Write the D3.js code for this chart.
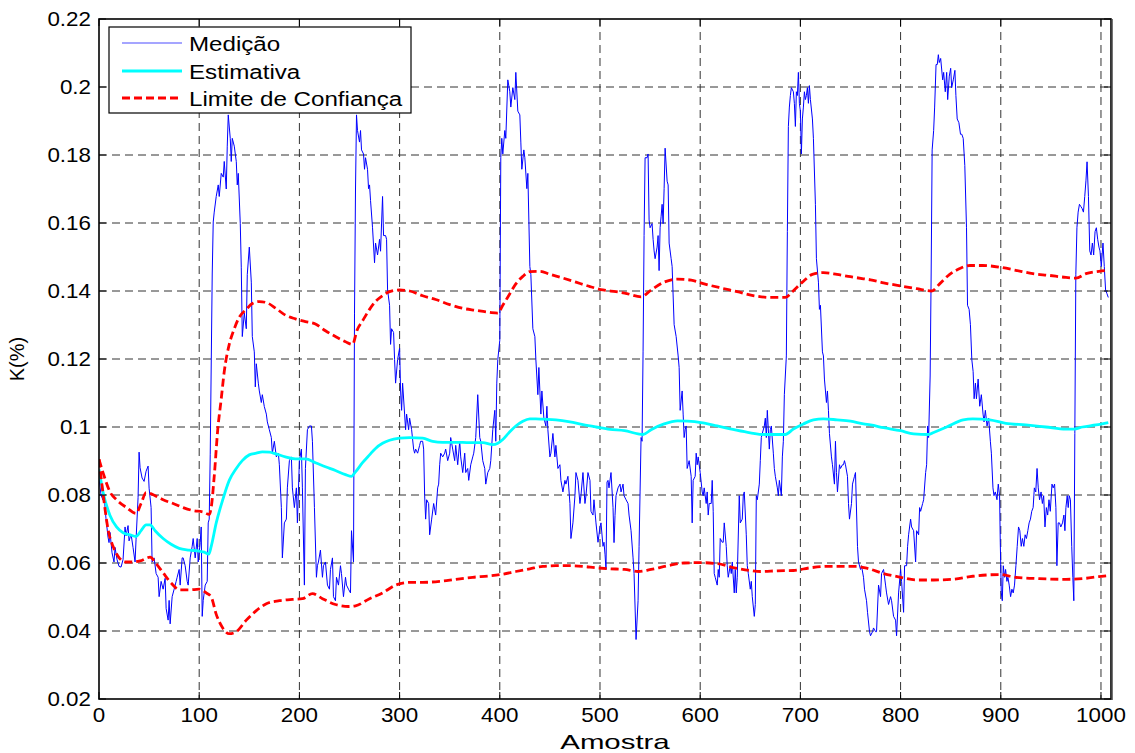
<!DOCTYPE html>
<html>
<head>
<meta charset="utf-8">
<script src="https://cdn.jsdelivr.net/npm/d3@7"></script>
<style>
  html, body { margin: 0; padding: 0; background: #fff; }
  svg { display: block; }
  text { font-family: "Liberation Sans", Arial, Helvetica, sans-serif; fill: #000; }
</style>
</head>
<body>
<svg id="chart" width="1135" height="753"></svg>
<script>
// ---------------- DATA ----------------
const xTicks = [0, 100, 200, 300, 400, 500, 600, 700, 800, 900, 1000];
const yTicks = [0.02, 0.04, 0.06, 0.08, 0.10, 0.12, 0.14, 0.16, 0.18, 0.20, 0.22];
const yTickLabels = ["0.02", "0.04", "0.06", "0.08", "0.1", "0.12", "0.14", "0.16", "0.18", "0.2", "0.22"];
const seriesNames = ["Medição", "Estimativa", "Limite de Confiança"];
const xLabel = "Amostra";
const yLabel = "K(%)";

// Medição (sample, value)
const medicao = [
[0,0.085],[2,0.080],[4,0.0785],[5,0.080],[7,0.073],[9,0.0676],[10,0.066],[11,0.069],[13,0.063],[15,0.0603],[16,0.0646],[18,0.061],[20,0.059],[22,0.0588],[24,0.061],[26,0.0706],[27,0.068],[29,0.071],[30,0.0665],[32,0.0685],[34,0.0645],[36,0.0603],[37,0.067],[39,0.0792],[40,0.0926],[41,0.088],[43,0.085],[45,0.084],[47,0.087],[49,0.0885],[50,0.082],[52,0.0763],[53,0.0603],[55,0.0615],[57,0.0569],[59,0.0558],[60,0.0501],[62,0.0546],[64,0.0523],[66,0.0555],[67,0.0466],[69,0.0432],[70,0.049],[71,0.0421],[73,0.0501],[75,0.0523],[77,0.0546],[78,0.0558],[80,0.0581],[81,0.0535],[83,0.0615],[84,0.0615],[86,0.0592],[88,0.0546],[89,0.0535],[91,0.0615],[93,0.0649],[94,0.0672],[96,0.0615],[98,0.0672],[99,0.0603],[101,0.066],[102,0.0706],[103,0.0443],[104,0.049],[106,0.0535],[108,0.0546],[109,0.0718],[110,0.0729],[111,0.092],[113,0.145],[114,0.1603],[115,0.1632],[117,0.1678],[119,0.1712],[120,0.1678],[122,0.1746],[124,0.1735],[125,0.1781],[127,0.17],[128,0.1826],[129,0.1918],[131,0.1849],[132,0.1781],[133,0.1849],[135,0.1826],[137,0.1781],[138,0.1712],[139,0.1746],[141,0.1598],[142,0.147],[143,0.1266],[145,0.1335],[147,0.1289],[148,0.1449],[150,0.1529],[152,0.1426],[153,0.1266],[155,0.1221],[156,0.1118],[157,0.1186],[159,0.1129],[160,0.1106],[162,0.1072],[163,0.1095],[165,0.106],[167,0.1038],[168,0.1015],[170,0.0992],[172,0.0969],[173,0.0923],[175,0.0958],[177,0.0912],[179,0.0923],[180,0.0889],[182,0.0763],[183,0.0615],[185,0.0718],[187,0.0729],[188,0.0821],[190,0.0901],[192,0.0912],[193,0.0821],[195,0.0763],[197,0.0821],[198,0.0718],[200,0.0901],[202,0.0935],[203,0.0821],[205,0.0535],[206,0.0878],[208,0.0992],[210,0.1003],[212,0.1003],[213,0.0958],[215,0.0763],[217,0.0558],[218,0.0592],[219,0.0603],[221,0.0638],[223,0.0558],[224,0.0592],[226,0.0603],[228,0.0535],[230,0.0523],[231,0.0581],[233,0.0615],[234,0.0501],[236,0.0489],[237,0.0558],[239,0.0535],[241,0.0592],[242,0.0569],[244,0.0501],[246,0.0558],[247,0.0535],[249,0.0523],[251,0.0512],[252,0.0695],[254,0.0603],[255,0.1335],[256,0.17],[257,0.1918],
[258,0.1872],[260,0.1838],[261,0.1872],[262,0.1815],[264,0.1803],[265,0.1758],[266,0.1792],[268,0.1758],[269,0.1701],[270,0.1712],[271,0.1666],[273,0.1586],[275,0.1483],[276,0.1541],[278,0.1506],[280,0.1552],[281,0.1517],[283,0.1678],[284,0.1563],[286,0.1563],[287,0.1552],[288,0.1403],[290,0.1358],[291,0.1243],[292,0.1289],[294,0.1278],[295,0.1198],[296,0.1129],[298,0.1198],[300,0.1232],[301,0.1106],[302,0.1049],[303,0.1129],[305,0.1038],[306,0.0992],[307,0.1038],[309,0.0992],[310,0.1026],[312,0.0992],[314,0.0935],[315,0.0923],[316,0.0935],[318,0.0923],[320,0.0946],[321,0.0958],[323,0.0958],[324,0.0935],[325,0.0798],[326,0.0729],[327,0.0786],[329,0.0775],[330,0.0683],[332,0.0729],[334,0.0775],[336,0.0741],[338,0.0821],[339,0.0832],[340,0.0889],[341,0.0923],[343,0.0912],[345,0.0923],[346,0.0935],[348,0.0901],[350,0.0923],[351,0.0969],[353,0.0935],[355,0.0901],[356,0.0946],[358,0.0889],[360,0.0958],[361,0.0912],[363,0.0866],[365,0.0923],[366,0.0866],[368,0.0878],[369,0.0843],[371,0.0889],[373,0.0912],[374,0.0923],[376,0.0969],[378,0.1095],[380,0.0969],[381,0.0958],[383,0.0901],[385,0.0878],[386,0.0832],[388,0.0866],[390,0.0878],[391,0.0901],[393,0.0992],[395,0.1049],[396,0.0958],[397,0.1129],[398,0.1198],[400,0.1255],[401,0.1792],[402,0.1849],[403,0.1803],[405,0.1872],[406,0.1849],[408,0.2021],[410,0.1986],[411,0.1941],[413,0.1998],[415,0.1963],[416,0.2043],[418,0.1929],[420,0.1918],[421,0.1838],[422,0.1758],[424,0.1815],[425,0.1792],[427,0.1701],[428,0.1746],[430,0.1472],[431,0.1449],[433,0.1289],[435,0.1266],[436,0.1198],[438,0.1095],[439,0.1175],[440,0.1106],[441,0.1038],[442,0.1106],[444,0.1026],[446,0.1003],[447,0.1061],[448,0.0992],[450,0.0912],[451,0.0923],[453,0.0981],[455,0.0912],[456,0.0946],[458,0.0878],[460,0.0889],[461,0.0843],[463,0.0809],[465,0.0843],[466,0.0832],[468,0.0855],[470,0.0775],[471,0.0672],[473,0.0718],[475,0.0798],[476,0.0866],[478,0.0843],[480,0.0775],[481,0.0798],[483,0.0866],[485,0.0775],[486,0.0798],[488,0.0866],[490,0.0843],[491,0.0752],[493,0.0741],[494,0.0786],[496,0.0718],[498,0.0661],[500,0.0706],[501,0.0718],[503,0.0649],[504,0.0661],[505,0.0626],[506,0.0581],[507,0.0838],[508,0.0843],[509,0.0821],[511,0.0866],
[513,0.0763],[514,0.066],[515,0.074],[516,0.0798],[518,0.0821],[520,0.0832],[521,0.0809],[523,0.0832],[524,0.0798],[526,0.0786],[528,0.0775],[529,0.0741],[531,0.0695],[533,0.0615],[534,0.0569],[536,0.0375],[538,0.0489],[539,0.0649],[540,0.0809],[541,0.0969],[542,0.0958],[543,0.1221],[544,0.1563],[545,0.1792],[547,0.1792],[548,0.1803],[549,0.1609],[550,0.1586],[552,0.1598],[553,0.1552],[554,0.1518],[555,0.1495],[557,0.1529],[558,0.1563],[559,0.146],[560,0.1586],[561,0.162],[562,0.1655],[563,0.1598],[564,0.1701],[565,0.182],[567,0.1723],[568,0.1712],[569,0.1541],[571,0.1495],[572,0.1472],[574,0.1301],[576,0.1266],[578,0.1209],[579,0.1175],[580,0.1049],[582,0.1106],[583,0.1038],[584,0.0969],[585,0.0992],[586,0.1003],[587,0.0878],[588,0.0889],[589,0.0901],[591,0.0855],[592,0.0718],[593,0.0843],[595,0.0855],[596,0.0923],[597,0.0889],[598,0.0912],[600,0.0866],[602,0.0809],[603,0.0798],[604,0.0821],[606,0.0775],[607,0.0809],[608,0.0741],[609,0.0775],[611,0.0775],[612,0.0843],[613,0.0752],[614,0.0569],[615,0.0558],[617,0.0535],[618,0.0581],[619,0.0558],[620,0.0672],[622,0.0661],[623,0.0661],[624,0.0718],[626,0.0649],[627,0.0592],[628,0.0558],[630,0.0592],[631,0.0569],[632,0.0603],[634,0.0512],[635,0.0581],[636,0.0512],[637,0.0558],[639,0.0798],[640,0.0718],[642,0.0729],[643,0.0798],[644,0.0809],[646,0.0683],[647,0.0592],[648,0.0569],[650,0.0523],[651,0.0546],[652,0.0501],[654,0.0443],[655,0.0478],[656,0.0798],[657,0.0786],[659,0.0832],[660,0.0901],[661,0.0969],[662,0.0981],[664,0.1003],[665,0.1026],[666,0.0969],[667,0.1049],[669,0.0935],[670,0.0992],[671,0.1003],[673,0.0923],[674,0.0878],[675,0.0855],[677,0.0821],[678,0.0798],[679,0.0843],[681,0.0798],[682,0.0912],[683,0.0958],[684,0.1095],[686,0.1209],[687,0.1575],[688,0.1884],[689,0.1941],[690,0.1975],[691,0.1998],[693,0.1986],[694,0.1952],[695,0.1884],[696,0.1986],[697,0.1975],[698,0.2043],[699,0.1952],[700,0.1929],[701,0.1803],[702,0.1906],[703,0.1941],[704,0.1986],[705,0.1963],[706,0.1975],[707,0.1998],[708,0.1952],[709,0.2004],[710,0.1963],[712,0.1906],[713,0.1849],[715,0.1655],[716,0.1495],[718,0.1426],[719,0.1346],[720,0.1358],[722,0.1221],[723,0.1209],[724,0.1141],[726,0.1072],[727,0.1106],[728,0.1049],[729,0.0981],[731,0.0912],[732,0.0889],[734,0.0832],[735,0.0958],[736,0.0866],[737,0.0809],[739,0.0889],[740,0.0878],[742,0.0889],[743,0.0889],[744,0.0901],[745,0.0889],[747,0.0855],[748,0.0775],[749,0.0729],[751,0.0775],[752,0.0832],[754,0.0855],[755,0.0866],[757,0.0649],[758,0.0603],[760,0.0581],[761,0.0592],[763,0.0558],[764,0.0523],[766,0.0489],[767,0.0455],[769,0.0398],
[770,0.0386],[772,0.0398],[773,0.0409],[775,0.0398],[776,0.0398],[778,0.0535],[780,0.0501],[781,0.0569],[783,0.0581],[785,0.0535],[786,0.0512],[788,0.0478],[790,0.0501],[791,0.0489],[793,0.0443],[795,0.0432],[796,0.0386],[798,0.0512],[800,0.0581],[801,0.0546],[803,0.0455],[804,0.0592],[806,0.0592],[807,0.0649],[808,0.0683],[810,0.0729],[811,0.0706],[813,0.0695],[815,0.0603],[816,0.0695],[818,0.0683],[819,0.0763],[820,0.0752],[822,0.0775],[823,0.0786],[825,0.0866],[826,0.0889],[827,0.1003],[828,0.0969],[829.5,0.115],[830.5,0.145],[831.5,0.1815],[833,0.1872],[834,0.1941],[835.4,0.2066],[836.6,0.2066],[837.7,0.2095],[838.6,0.2072],[840,0.2084],[842,0.2021],[843,0.2043],[844.6,0.1986],[846,0.2043],[847,0.1963],[848.6,0.2032],[850,0.2055],[851,0.1998],[852.6,0.2021],[854.2,0.2049],[855.2,0.1975],[856.5,0.1906],[858.2,0.1895],[859.8,0.1861],[861.1,0.1861],[862.5,0.1849],[864.1,0.1769],[865.8,0.1586],[866.8,0.1358],[868.4,0.1346],[869.7,0.1301],[871.1,0.1198],[872.4,0.1163],[873.4,0.1083],[874.7,0.1129],[875.7,0.1083],[877.4,0.1141],[879,0.1061],[880.6,0.1095],[882.3,0.1038],[883.3,0.1015],[884.6,0.1049],[886.3,0.1003],[887.9,0.1026],[889.6,0.0958],[890.6,0.0923],[892.2,0.0821],[893.2,0.0798],[894.5,0.0809],[896.2,0.0786],[897.5,0.0832],[898.8,0.0798],[899.5,0.0661],[900.5,0.0512],[901.5,0.0489],[902.5,0.0592],[903.8,0.0558],[904.8,0.0581],[906.1,0.0546],[907.1,0.0558],[908.4,0.0535],[909.8,0.0501],[911.1,0.0523],[912.4,0.0512],[913.7,0.0535],[915.1,0.0592],[916.4,0.0649],[917.7,0.0706],[919,0.0695],[920.4,0.0649],[921.6,0.0672],[923,0.0649],[924.3,0.0683],[925.6,0.0672],[927,0.0695],[928.3,0.0718],[929.6,0.0729],[930.9,0.0752],[932.3,0.0763],[933.5,0.0821],[934.9,0.0809],[936.2,0.0878],[937.4,0.0821],[938.7,0.0786],[940.2,0.0809],[941.5,0.0775],[942.8,0.0798],[944.1,0.0706],[945.5,0.0763],[946.8,0.0741],[948.1,0.0786],[949.4,0.0752],[951.1,0.0832],[952.3,0.0821],[953.7,0.0832],[955,0.0763],[956,0.0592],[957.3,0.0718],[958.6,0.0718],[959.9,0.0706],[961.6,0.0718],[963,0.0741],[964,0.0695],[965,0.0763],[966.3,0.0798],[967.3,0.0763],[968.3,0.0798],[969.5,0.0786],[970.8,0.0649],[971.9,0.0558],[972.9,0.0489],[973.9,0.0981],[974.9,0.1449],[976,0.1586],[977.2,0.1632],[978.5,0.1655],[979.8,0.1649],[981.1,0.1643],[982.5,0.1632],[983.8,0.1678],[985,0.1724],[986.1,0.178],[987.5,0.1678],[988.8,0.1518],[990.1,0.1506],[991.4,0.1541],[992.7,0.1506],[994.1,0.1575],[995.4,0.1586],[996.7,0.1552],[998,0.1529],[999,0.1518],[1000.3,0.1472],[1002,0.1541],[1003.3,0.1472],[1004.6,0.1403],[1006,0.1392],[1007.3,0.1381]
];

// Estimativa (sample, value)
const estimativa = [
[0,0.0875],[4,0.0809],[11,0.074],[17.5,0.0706],[24,0.0689],[31,0.0683],[37,0.0678],[42,0.0695],[47,0.0712],[51,0.0712],[56,0.0695],[64,0.0672],[72,0.0655],[80,0.0643],[90,0.0638],[100,0.0635],[105,0.0632],[109.6,0.0626],[112,0.0649],[117,0.0718],[123.5,0.0786],[130,0.0843],[137,0.0878],[143,0.0901],[150,0.0918],[157,0.0923],[163,0.0927],[170,0.0926],[176.5,0.0921],[186,0.0912],[196,0.0906],[206,0.0906],[216,0.0895],[226,0.0883],[236,0.0872],[246,0.086],[252,0.0855],[256,0.0868],[263,0.0895],[270,0.0918],[276,0.0937],[283,0.0952],[290,0.0961],[300,0.0967],[310,0.0969],[323,0.0967],[333,0.0958],[343,0.0955],[356,0.0955],[370,0.0954],[383,0.0954],[393,0.0948],[398,0.0952],[403,0.0963],[410,0.0986],[416,0.1003],[423,0.1017],[430,0.1024],[436,0.1024],[443,0.1023],[456,0.1021],[470,0.1015],[483,0.1007],[496,0.1],[510,0.0993],[524.5,0.0989],[538,0.098],[543,0.0978],[551,0.0992],[564,0.1009],[577.5,0.1018],[587.5,0.1017],[600.7,0.1013],[617,0.1003],[634,0.0992],[650,0.0983],[664,0.0978],[677,0.0978],[685,0.0978],[693,0.0994],[703,0.1009],[713,0.1021],[723,0.1024],[736.5,0.1021],[750,0.1017],[763,0.1009],[770,0.1006],[783,0.0998],[800,0.0989],[813,0.098],[828,0.0978],[833,0.0984],[846,0.1],[862.5,0.1021],[872,0.1024],[889,0.1021],[905,0.1011],[925,0.1006],[945,0.1],[965,0.0994],[973,0.0994],[981.5,0.1],[995,0.1006],[1007.3,0.1013]
];

// Limite de Confiança — upper bound
const limiteSup = [
[0,0.0905],[4,0.0866],[11,0.0809],[17.5,0.0786],[27.5,0.0763],[37,0.0746],[42,0.0775],[47,0.0807],[56,0.0798],[64,0.0786],[74,0.0775],[84,0.0763],[94,0.0754],[104,0.075],[110,0.0743],[112,0.0763],[115,0.0855],[118.5,0.0992],[122,0.1083],[125,0.1163],[130,0.1243],[135,0.1289],[140,0.1323],[147,0.1346],[153,0.1363],[160,0.1369],[167,0.1366],[176.5,0.1349],[186,0.1329],[196,0.1318],[206,0.131],[216,0.1303],[226,0.1283],[236,0.1266],[246,0.1251],[253,0.1243],[257.6,0.1285],[263,0.1312],[270,0.1346],[276,0.1369],[283,0.1386],[290,0.1398],[300,0.1403],[310,0.14],[323,0.1386],[336,0.1375],[350,0.136],[363,0.1349],[376,0.1343],[390,0.1337],[398,0.1335],[403,0.1358],[410,0.1392],[416,0.1421],[423,0.1443],[430,0.1457],[440,0.1458],[450,0.1449],[463,0.1438],[476,0.1426],[490,0.1413],[503,0.1403],[516,0.1398],[524.5,0.1394],[541,0.1383],[551,0.1403],[564,0.1426],[577.5,0.1435],[591,0.1432],[604,0.1421],[620.6,0.1409],[637,0.1398],[654,0.1386],[670,0.1381],[685,0.1381],[692,0.1398],[702,0.1426],[712,0.1449],[723,0.1454],[736.5,0.1449],[750,0.1442],[763,0.1436],[770,0.1433],[783,0.1424],[800,0.1415],[816,0.1407],[831,0.14],[839,0.1421],[849,0.1449],[859,0.1466],[869,0.1475],[882,0.1475],[899,0.147],[915,0.1461],[932,0.1451],[948,0.1446],[965,0.144],[975,0.1438],[985,0.1451],[998,0.1458],[1007.3,0.1461]
];

// Limite de Confiança — lower bound
const limiteInf = [
[0,0.0905],[4.3,0.0798],[9.3,0.0695],[14,0.0649],[19,0.062],[26,0.0603],[34,0.0603],[41,0.0606],[51,0.0617],[57,0.0598],[64,0.0571],[72,0.0541],[80.5,0.0521],[90,0.0521],[100,0.0523],[107,0.0512],[112,0.05],[117,0.0449],[123.5,0.0409],[130,0.0392],[137,0.0398],[147,0.0432],[157,0.046],[167,0.048],[180,0.0489],[193,0.0493],[203,0.0495],[213,0.051],[223,0.0495],[236,0.0478],[249,0.0472],[256,0.0474],[270,0.0495],[283,0.0512],[296,0.0535],[310,0.0543],[323,0.0543],[340,0.0546],[356,0.0552],[373,0.0558],[390,0.0562],[403,0.0567],[416,0.0575],[430,0.0583],[443,0.059],[456,0.0592],[470,0.0592],[483,0.059],[496,0.0586],[510,0.0583],[524.5,0.0581],[538,0.0575],[551,0.0581],[567.6,0.0592],[584,0.06],[600.7,0.0601],[617,0.0598],[634,0.0586],[650,0.0578],[660,0.0575],[677,0.0577],[693,0.0578],[710,0.0586],[726.5,0.059],[743,0.059],[756,0.059],[767,0.0584],[783,0.0569],[800,0.0558],[816,0.055],[833,0.055],[852.6,0.0552],[872,0.0561],[899,0.0566],[915,0.0558],[938.5,0.0554],[965,0.0552],[981.5,0.0554],[998,0.056],[1007.3,0.0563]
];

// ---------------- DRAW ----------------
const svg = d3.select("#chart");
const X0 = 99, X1 = 1111, Y0 = 699, Y1 = 19;
const x = d3.scaleLinear().domain([0, 1010]).range([X0, X1]);
const y = d3.scaleLinear().domain([0.02, 0.22]).range([Y0, Y1]);

const FS = 20, SX = 1.12;  // font size and horizontal stretch of the source
function stretchedText(parent, px, py, str, anchor, fs, sx) {
  const g = parent.append("g").attr("transform", `translate(${px},${py}) scale(${sx || SX},1)`);
  g.append("text").attr("x", 0).attr("y", 0)
    .attr("text-anchor", anchor).style("font-size", (fs || FS) + "px").text(str);
  return g;
}

// clip
svg.append("defs").append("clipPath").attr("id", "clip")
  .append("rect").attr("x", X0).attr("y", Y1).attr("width", X1 - X0).attr("height", Y0 - Y1);

// grid
const grid = svg.append("g");
grid.selectAll("line.gx").data(xTicks.filter(d => d > 0)).join("line")
  .attr("x1", d => x(d)).attr("x2", d => x(d)).attr("y1", Y1).attr("y2", Y0)
  .attr("stroke", "#333").attr("stroke-width", 1).attr("stroke-dasharray", "8,5");
grid.selectAll("line.gy").data(yTicks.filter(d => d > 0.021 && d < 0.219)).join("line")
  .attr("x1", X0).attr("x2", X1).attr("y1", d => y(d)).attr("y2", d => y(d))
  .attr("stroke", "#333").attr("stroke-width", 1).attr("stroke-dasharray", "8,5");

// series
const plot = svg.append("g").attr("clip-path", "url(#clip)");
const lineLin = d3.line().x(d => x(d[0])).y(d => y(d[1]));
const lineSmooth = d3.line().x(d => x(d[0])).y(d => y(d[1])).curve(d3.curveMonotoneX);

plot.append("path").datum(medicao).attr("d", lineLin)
  .attr("fill", "none").attr("stroke", "#0000ff").attr("stroke-width", 1).attr("stroke-linejoin", "round");
plot.append("path").datum(estimativa).attr("d", lineSmooth)
  .attr("fill", "none").attr("stroke", "#00ffff").attr("stroke-width", 2.8);
[limiteSup, limiteInf].forEach(s => {
  plot.append("path").datum(s).attr("d", lineSmooth)
    .attr("fill", "none").attr("stroke", "#ff0000").attr("stroke-width", 2.8)
    .attr("stroke-dasharray", "8,4");
});

// frame + ticks (inward, on all sides)
const axes = svg.append("g");
const TL = 7;
xTicks.forEach(t => {
  axes.append("line").attr("x1", x(t)).attr("x2", x(t)).attr("y1", Y0).attr("y2", Y0 - TL).attr("stroke", "#000");
  axes.append("line").attr("x1", x(t)).attr("x2", x(t)).attr("y1", Y1).attr("y2", Y1 + TL).attr("stroke", "#000");
});
yTicks.forEach(t => {
  axes.append("line").attr("x1", X0).attr("x2", X0 + TL).attr("y1", y(t)).attr("y2", y(t)).attr("stroke", "#000");
  axes.append("line").attr("x1", X1).attr("x2", X1 - TL).attr("y1", y(t)).attr("y2", y(t)).attr("stroke", "#000");
});
axes.append("rect").attr("x", X0).attr("y", Y1).attr("width", X1 - X0).attr("height", Y0 - Y1)
  .attr("fill", "none").attr("stroke", "#000").attr("stroke-width", 1.6);
axes.append("line").attr("x1", X1 + 1).attr("x2", X1 + 1).attr("y1", Y1).attr("y2", Y0 + 1)
  .attr("stroke", "#444").attr("stroke-width", 1.5);

// tick labels
xTicks.forEach(t => stretchedText(svg, x(t), 722, String(t), "middle"));
yTicks.forEach((t, i) => stretchedText(svg, 91, y(t) + 7, yTickLabels[i], "end"));

// axis titles
stretchedText(svg, 615, 749, xLabel, "middle", 21, 1.4);
svg.append("text").attr("transform", `translate(24,${(Y0 + Y1) / 2}) rotate(-90)`)
  .attr("text-anchor", "middle").style("font-size", FS + "px").text(yLabel);

// legend
const lg = svg.append("g");
lg.append("rect").attr("x", 109).attr("y", 27).attr("width", 302).attr("height", 86)
  .attr("fill", "#fff").attr("stroke", "#000").attr("stroke-width", 1.2);
const legendStyles = [
  { c: "#4d4dff", w: 1.2, dash: null },
  { c: "#00ffff", w: 2.8, dash: null },
  { c: "#ff0000", w: 2.8, dash: "8,4" }
];
const rowY = [43, 71, 98];
seriesNames.forEach((n, i) => {
  const st = legendStyles[i];
  const l = lg.append("line").attr("x1", 122).attr("x2", 182).attr("y1", rowY[i]).attr("y2", rowY[i])
    .attr("stroke", st.c).attr("stroke-width", st.w);
  if (st.dash) l.attr("stroke-dasharray", st.dash);
  stretchedText(lg, 189, rowY[i] + 7.5, n, "start", 21, 1.15);
});
</script>
</body>
</html>
